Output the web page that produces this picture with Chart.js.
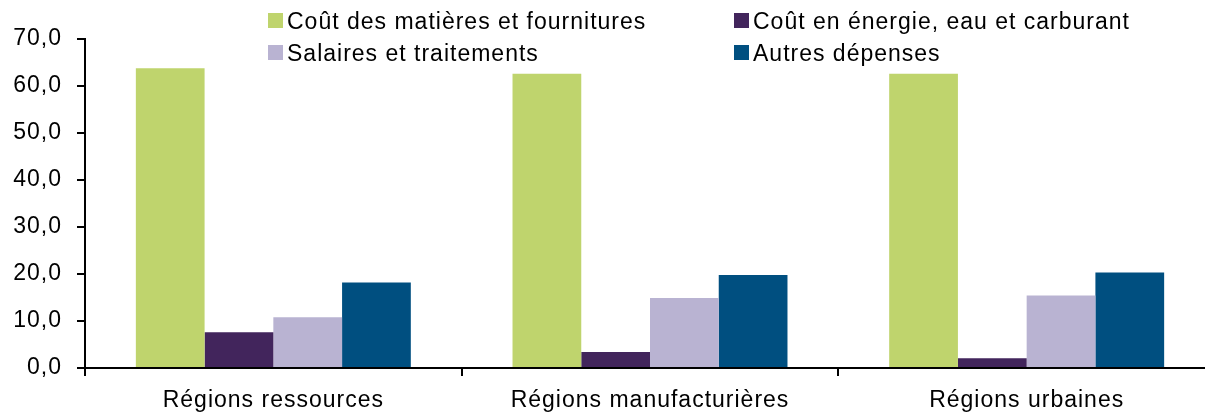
<!DOCTYPE html>
<html>
<head>
<meta charset="utf-8">
<script src="https://cdn.jsdelivr.net/npm/chart.js@4/dist/chart.umd.min.js"></script>
<style>
  html, body { margin: 0; padding: 0; background: #fff; overflow: hidden; }
  #wrap { position: relative; width: 1215px; height: 415px; }
  #legend { position: absolute; left: 0; top: 0; font-family: "Liberation Sans", Arial, sans-serif; font-size: 23px; letter-spacing: 1px; color: #000; }
  .li { position: absolute; white-space: nowrap; line-height: 26px; }
  .box { position: absolute; width: 15px; height: 15px; }
</style>
</head>
<body>
<div id="wrap">
  <canvas id="c" width="1215" height="415"></canvas>
  <div id="legend"></div>
</div>
<script>
const categories = ["Régions ressources", "Régions manufacturières", "Régions urbaines"];
const seriesNames = ["Coût des matières et fournitures", "Coût en énergie, eau et carburant", "Salaires et traitements", "Autres dépenses"];
const materiaux = [63.8, 62.6, 62.6];
const energie = [7.6, 3.4, 2.1];
const salaires = [10.8, 14.9, 15.4];
const autres = [18.2, 19.8, 20.3];
const colors = ["#BFD46D", "#42255C", "#B9B3D2", "#004F80"];

const FONT = { family: "'Liberation Sans', Arial, sans-serif", size: 23 };

const spacingPlugin = {
  id: 'spacing',
  beforeDraw(chart) { chart.ctx.letterSpacing = '1px'; }
};

const chart = new Chart(document.getElementById('c'), {
  type: 'bar',
  data: {
    labels: categories,
    datasets: [materiaux, energie, salaires, autres].map((d, i) => ({
      label: seriesNames[i],
      data: d,
      backgroundColor: colors[i],
      borderWidth: 0,
      barPercentage: 1.0,
      categoryPercentage: 0.73
    }))
  },
  options: {
    responsive: false,
    animation: false,
    layout: { padding: { top: 39, left: 0, right: 0, bottom: 0 } },
    plugins: { legend: { display: false }, tooltip: { enabled: false } },
    scales: {
      x: {
        grid: { display: true, drawOnChartArea: false, drawTicks: true, tickLength: 8, offset: true, color: '#000', lineWidth: 2 },
        border: { display: true, color: '#000', width: 2 },
        ticks: { color: '#000', font: FONT, padding: 11, maxRotation: 0 },
        afterFit(s) { s.height = 47; }
      },
      y: {
        min: 0, max: 70,
        grid: { display: true, drawOnChartArea: false, drawTicks: true, tickLength: 8, color: '#000', lineWidth: 2 },
        border: { display: true, color: '#000', width: 2 },
        ticks: {
          stepSize: 10, color: '#000', font: FONT, padding: 15,
          callback: v => v.toFixed(1).replace('.', ',')
        },
        afterFit(s) { s.width = 85; }
      }
    }
  },
  plugins: [spacingPlugin]
});

// HTML legend built from datasets, laid out in 2 columns x 2 rows
const legend = document.getElementById('legend');
const colX = [268, 734];
const rowY = [12.5, 45];
chart.data.datasets.forEach((ds, i) => {
  const col = i % 2, row = Math.floor(i / 2);
  const box = document.createElement('div');
  box.className = 'box';
  box.style.left = colX[col] + 'px';
  box.style.top = rowY[row] + 'px';
  box.style.background = ds.backgroundColor;
  legend.appendChild(box);
  const t = document.createElement('div');
  t.className = 'li';
  t.textContent = ds.label;
  t.style.left = (colX[col] + 19) + 'px';
  t.style.top = (rowY[row] - 5) + 'px';
  legend.appendChild(t);
});
</script>
</body>
</html>
